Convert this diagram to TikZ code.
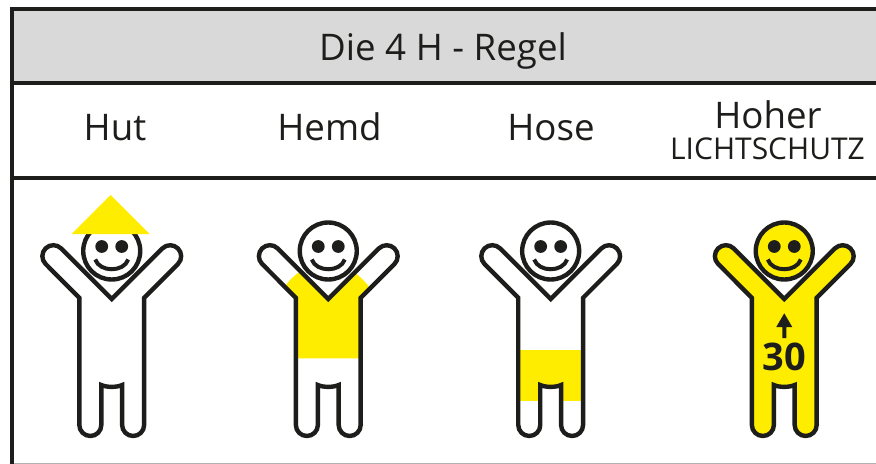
\documentclass[tikz,border=0pt]{standalone}
\usepackage{fontspec}
\setmainfont{Open Sans}
\definecolor{ink}{HTML}{1D1D1B}
\definecolor{sun}{HTML}{FFED00}
\definecolor{band}{HTML}{D9D9D9}
\tikzset{
  rule/.style={draw=ink,line width=3pt},
  outline/.style={draw=ink,line width=3.3pt,line join=miter,miter limit=10},
  headring/.style={draw=ink,line width=3.3pt},
  title/.style={text=ink,inner sep=0pt,anchor=base,font=\fontsize{27.5pt}{30pt}\selectfont},
}
\newcommand{\figpath}{(0,299) -- (-50.6,248.4) arc[start angle=-45,end angle=-225,radius=11] -- (-32.4,297.8)
 -- (-32.4,425) arc[start angle=180,end angle=0,radius=11] -- (-10.4,385)
 .. controls (-5,387.5) and (5,387.5) .. (10.4,385)
 -- (10.4,425) arc[start angle=180,end angle=0,radius=11] -- (32.4,297.8)
 -- (66.2,264) arc[start angle=45,end angle=-135,radius=11] -- cycle}
\newcommand{\facemarks}{%
  \fill[ink] (-10,246.5) circle[radius=6.4] (10,246.5) circle[radius=6.4];
  \draw[ink,line width=3pt] (-16.5,259.5) .. controls (-12,272.5) and (12,272.5) .. (16.5,259.5);
}
\begin{document}
\begin{tikzpicture}[x=0.75pt,y=-0.75pt]
\useasboundingbox (0,0) rectangle (876,464);
\fill[white] (0,0) rectangle (876,464);
\fill[band] (12,8) rectangle (876,82.5);
\draw[rule] (876,8.5) -- (11.7,8.5) -- (11.7,464);
\draw[rule] (11.7,82.7) -- (876,82.7);
\draw[rule] (11.7,177.7) -- (876,177.7);
\draw[black!30,line width=0.75pt] (13.7,463.4) -- (876,463.4);
\node[title] (head) at (443,60.7) {Die 4 H - Regel};
\node[title] (hut) at (115,140.7) {Hut};
\node[title] (hemd) at (329.5,140.7) {Hemd};
\node[title] (hose) at (551,140.7) {Hose};
\node[title] (hoher) at (768,128.3) {Hoher};
\node[title,font=\fontsize{22.5pt}{24pt}\selectfont] (licht) at (767.5,159.3) {LICHTSCHUTZ};
% Hut
\begin{scope}[xshift=83.8pt]
\draw[outline,fill=white] \figpath;
\draw[headring,fill=white] (0,251) circle[radius=28.5];
\facemarks
\fill[sun] (-1,195) -- (38,234) -- (-40,234) -- cycle;
\end{scope}
% Hemd
\begin{scope}[xshift=246.2pt]
\fill[white] \figpath;
\begin{scope}
\clip (-42.3,285) .. controls (-38,279) and (-34,276) .. (-30,272.7) -- (0,290) -- (28.4,274) .. controls (33,278) and (37,282) .. (41,287) -- (41,358.3) -- (-42.3,358.3) -- cycle;
\fill[sun] \figpath;
\end{scope}
\draw[outline] \figpath;
\draw[headring,fill=white] (0,251) circle[radius=28.5];
\facemarks
\end{scope}
% Hose
\begin{scope}[xshift=413pt]
\fill[white] \figpath;
\begin{scope}
\clip (-40,350) rectangle (40,400.3);
\fill[sun] \figpath;
\end{scope}
\draw[outline] \figpath;
\draw[headring,fill=white] (0,251) circle[radius=28.5];
\facemarks
\end{scope}
% Lichtschutz
\begin{scope}[xshift=588.2pt]
\draw[outline,fill=sun] \figpath;
\draw[headring,fill=sun] (0,251) circle[radius=28.5];
\facemarks
\fill[ink] (0,313.3) -- (8,327) -- (2,327) -- (2,338) -- (-2,338) -- (-2,327) -- (-8,327) -- cycle;
\node[text=ink,inner sep=0pt,anchor=base,font=\fontsize{28.5pt}{30pt}\bfseries\selectfont] (num) at (0,370.7) {30};
\end{scope}
\end{tikzpicture}
\end{document}
